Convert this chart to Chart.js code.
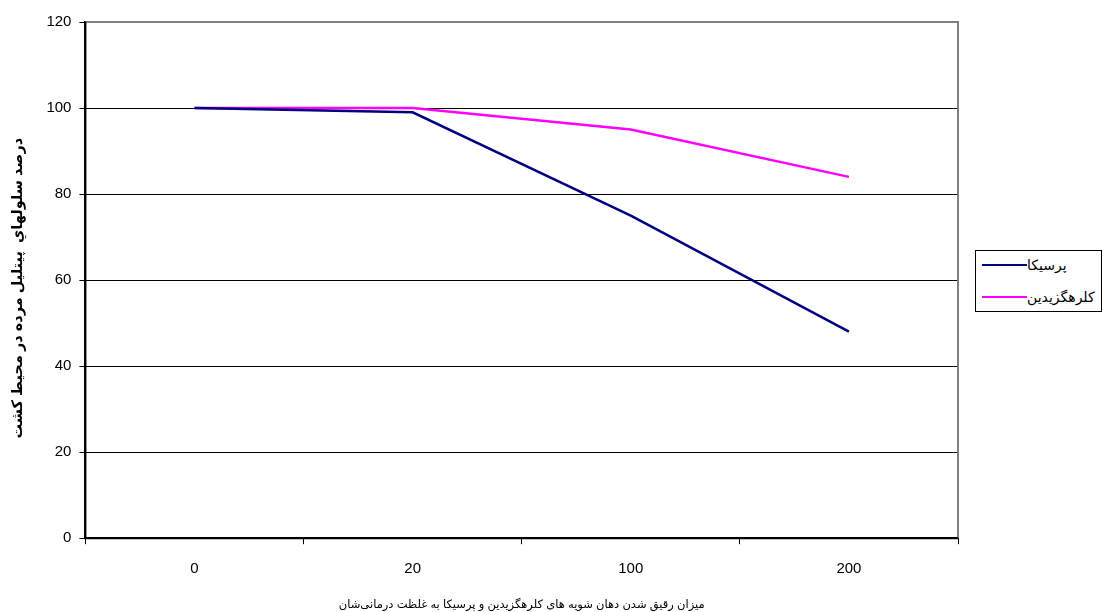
<!DOCTYPE html>
<html>
<head>
<meta charset="utf-8">
<script src="https://cdn.jsdelivr.net/npm/chart.js@4/dist/chart.umd.min.js"></script>
<style>
  html, body { margin: 0; padding: 0; background: #fff; }
  #wrap { position: relative; width: 1103px; height: 612px; }
  #legend {
    position: absolute; left: 975px; top: 250px; width: 127px; height: 62px;
    border: 1px solid #000; box-sizing: border-box; background: #fff;
    font-family: "Liberation Sans", "DejaVu Sans", sans-serif; font-size: 14px; color: #000;
  }
  .li { position: absolute; left: 6px; display: flex; align-items: center; height: 18px; }
  .li span.sw { display: inline-block; width: 45px; height: 0; border-top: 2.5px solid; }
  .li span.tx { direction: rtl; margin-left: 0px; white-space: nowrap; }
</style>
</head>
<body>
<div id="wrap">
  <canvas id="c" width="1103" height="612"></canvas>
  <div id="legend"></div>
</div>
<script>
const categories = ["0", "20", "100", "200"];
const persica = [100, 99, 75, 48];
const chlorhexidine = [100, 100, 95, 84];
const seriesNames = ["پرسیکا", "کلرهگزیدین"];
const seriesColors = ["#000080", "#FF00FF"];
const yTitle = "درصد سلولهاي  پيتليل مرده در محيط كشت";
const xTitle = "میزان رقیق شدن دهان شویه های کلرهگزیدین و پرسیکا به غلظت درمانی‌شان";

const FONT = '"Liberation Sans", "DejaVu Sans", sans-serif';

const frame = {
  id: 'frame',
  afterDatasetsDraw(chart) {
    const a = chart.chartArea, ctx = chart.ctx;
    ctx.save();
    ctx.strokeStyle = '#808080';
    ctx.lineWidth = 2;
    ctx.beginPath();
    ctx.moveTo(a.left, a.top);
    ctx.lineTo(a.right, a.top);
    ctx.lineTo(a.right, a.bottom);
    ctx.stroke();
    ctx.strokeStyle = '#000';
    ctx.lineWidth = 2;
    ctx.beginPath();
    ctx.moveTo(a.left, a.top);
    ctx.lineTo(a.left, a.bottom);
    ctx.lineTo(a.right, a.bottom);
    ctx.stroke();
    ctx.restore();
  }
};

new Chart(document.getElementById('c'), {
  type: 'line',
  data: {
    labels: categories,
    datasets: [
      { label: seriesNames[0], data: persica, borderColor: seriesColors[0], borderWidth: 2.5, pointRadius: 0, tension: 0, fill: false },
      { label: seriesNames[1], data: chlorhexidine, borderColor: seriesColors[1], borderWidth: 2.5, pointRadius: 0, tension: 0, fill: false }
    ]
  },
  options: {
    responsive: false,
    animation: false,
    layout: { padding: { top: 22, right: 145, bottom: 0, left: 9 } },
    plugins: { legend: { display: false }, tooltip: { enabled: false } },
    scales: {
      x: {
        offset: true,
        grid: { offset: true, drawOnChartArea: false, drawTicks: true, tickLength: 6, color: '#000', lineWidth: 1 },
        border: { display: true, color: '#000', width: 2 },
        ticks: { color: '#000', font: { family: FONT, size: 15 }, padding: 16, maxRotation: 0 },
        title: { display: true, text: xTitle, color: '#000', font: { family: FONT, size: 11.5 }, padding: { top: 4, bottom: 0 } }
      },
      y: {
        min: 0, max: 120,
        ticks: { stepSize: 20, color: '#000', font: { family: FONT, size: 15 }, padding: 8 },
        grid: { color: '#000', lineWidth: 1, tickLength: 6, drawTicks: true },
        border: { display: true, color: '#000', width: 2 },
        title: { display: true, text: yTitle + '    ', color: '#000', font: { family: FONT, size: 14.5, weight: 'bold' }, padding: { top: 0, bottom: 12 } }
      }
    }
  },
  plugins: [frame]
});

const leg = document.getElementById('legend');
seriesNames.forEach((n, i) => {
  const d = document.createElement('div');
  d.className = 'li';
  d.style.top = (i === 0 ? 5 : 37) + 'px';
  d.innerHTML = '<span class="sw" style="border-color:' + seriesColors[i] + '"></span><span class="tx">' + n + '</span>';
  leg.appendChild(d);
});
</script>
</body>
</html>
